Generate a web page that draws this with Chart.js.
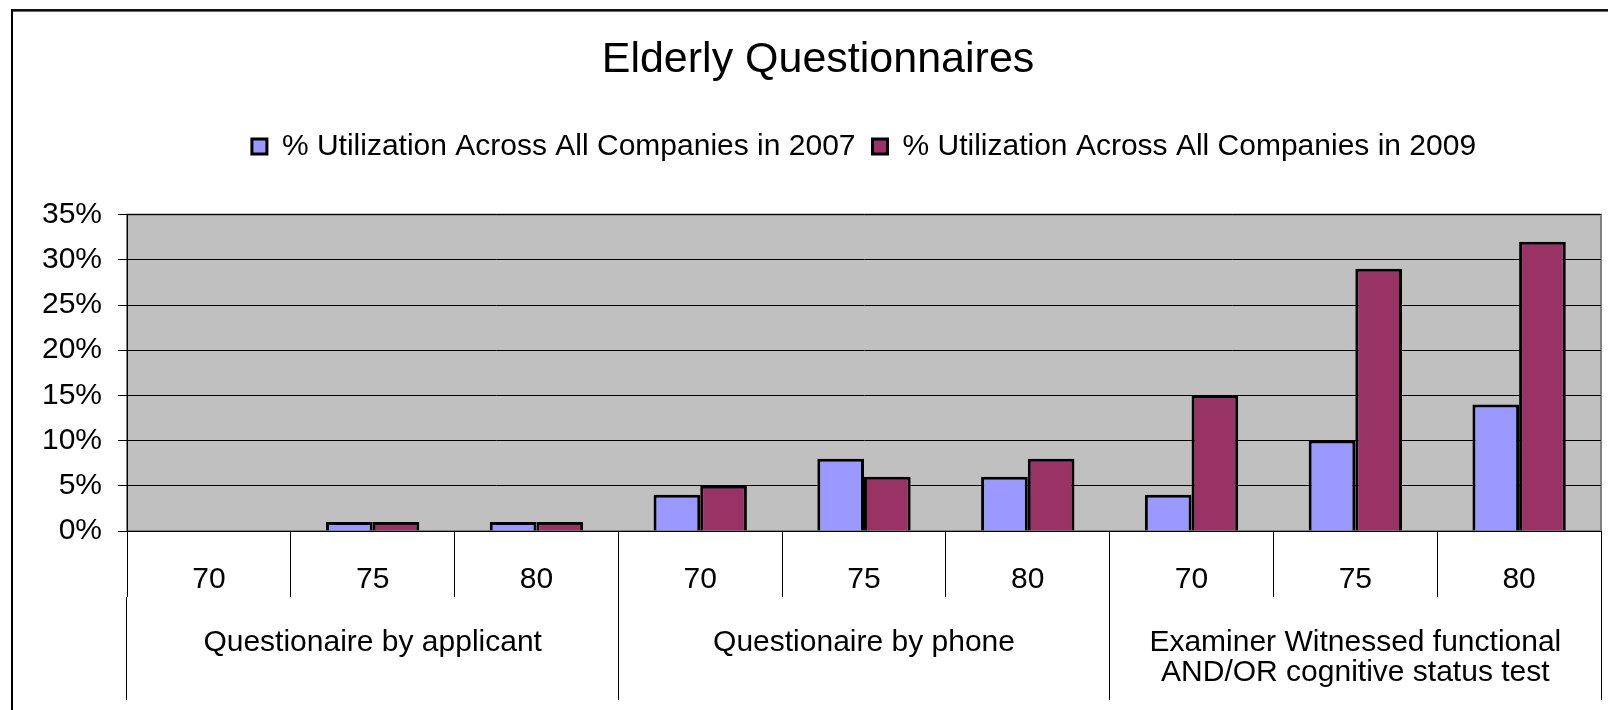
<!DOCTYPE html>
<html>
<head>
<meta charset="utf-8">
<title>Elderly Questionnaires</title>
<script src="https://cdn.jsdelivr.net/npm/chart.js@4"></script>
<style>
  body { margin: 0; background: #fff; }
  #wrap { position: relative; width: 1608px; height: 710px; overflow: hidden; }
  #frame {
    position: absolute; left: 11px; top: 9px; width: 1700px; height: 800px;
    border-left: 2px solid #000; border-top: 2px solid #111;
    box-shadow: inset 0 1px 0 #666;
    pointer-events: none;
  }
</style>
</head>
<body>
<div id="wrap">
  <canvas id="chart" width="1608" height="710"></canvas>
  <div id="frame"></div>
</div>
<script>
const groupLabels = [
    'Questionaire by applicant',
    'Questionaire by phone',
    ['Examiner Witnessed functional', 'AND/OR cognitive status test'],
];
const ageLabels = ['70', '75', '80', '70', '75', '80', '70', '75', '80'];
const util2007 = [0, 1, 1, 4, 8, 6, 4, 10, 14];
const util2009 = [0, 1, 1, 5, 6, 8, 15, 29, 32];

const FONT = "'Liberation Sans', Arial, sans-serif";

// grey plot area like the old excel charts
const plotBg = {
    id: 'plotBg',
    beforeDraw(chart) {
        const { ctx, chartArea: a } = chart;
        ctx.save();
        ctx.fillStyle = '#c0c0c0';
        ctx.fillRect(a.left, a.top, a.right - a.left, a.bottom - a.top);
        ctx.strokeStyle = '#808080';
        ctx.lineWidth = 2;
        ctx.strokeRect(a.left, a.top, a.right - a.left, a.bottom - a.top);
        ctx.restore();
    },
};

// extra room between legend and plot
const legendGap = {
    id: 'legendGap',
    beforeLayout(chart) {
        const legend = chart.legend;
        if (!legend || legend._gap) return;
        const fit = legend.fit;
        legend.fit = function () {
            fit.call(this);
            this.height += 43;
        };
        legend._gap = true;
    },
};

new Chart(document.getElementById('chart'), {
    type: 'bar',
    data: {
        labels: ageLabels,
        datasets: [
            {
                label: '% Utilization Across All Companies in 2007',
                data: util2007,
                backgroundColor: '#9999ff',
                borderColor: '#000',
                borderWidth: 3,
            },
            {
                label: '% Utilization Across All Companies in 2009',
                data: util2009,
                backgroundColor: '#993366',
                borderColor: '#000',
                borderWidth: 3,
            },
        ],
    },
    options: {
        responsive: false,
        animation: false,
        layout: { padding: { left: 35, right: 7, top: 0, bottom: 0 } },
        datasets: {
            bar: { categoryPercentage: 0.57, barPercentage: 1.0 },
        },
        plugins: {
            title: {
                display: true,
                text: 'Elderly Questionnaires',
                color: '#000',
                font: { family: FONT, size: 43, weight: 'normal' },
                padding: { top: 34, bottom: 29 },
            },
            legend: {
                position: 'top',
                fullSize: false,
                labels: {
                    color: '#000',
                    font: { family: FONT, size: 30 },
                    boxWidth: 15,
                    boxHeight: 15,
                    padding: 17,
                },
            },
            tooltip: { enabled: false },
        },
        scales: {
            x: {
                type: 'category',
                position: 'bottom',
                grid: {
                    offset: true,
                    drawOnChartArea: false,
                    drawTicks: true,
                    tickLength: 66,
                    color: '#000',
                },
                border: { display: true, color: '#000', width: 1 },
                ticks: {
                    color: '#000',
                    font: { family: FONT, size: 30 },
                    padding: -35,
                    maxRotation: 0,
                    autoSkip: false,
                },
                afterFit: s => { s.height = 66; },
            },
            xg: {
                type: 'category',
                position: 'bottom',
                weight: 1,
                labels: groupLabels,
                grid: {
                    offset: true,
                    drawOnChartArea: false,
                    drawTicks: true,
                    tickLength: 103,
                    color: '#000',
                },
                border: { display: false },
                ticks: {
                    color: '#000',
                    font: { family: FONT, size: 30, lineHeight: 1 },
                    padding: -72,
                    maxRotation: 0,
                    autoSkip: false,
                },
                afterFit: s => { s.height = 113; },
            },
            y: {
                min: 0,
                max: 35,
                grid: {
                    color: '#000',
                    drawTicks: true,
                    tickLength: 9,
                },
                border: { color: '#000', width: 1 },
                ticks: {
                    stepSize: 5,
                    color: '#000',
                    font: { family: FONT, size: 30 },
                    padding: 16,
                    callback: v => v + '%',
                },
                afterFit: s => { s.width = 92; },
            },
        },
    },
    plugins: [plotBg, legendGap],
});
</script>
</body>
</html>
